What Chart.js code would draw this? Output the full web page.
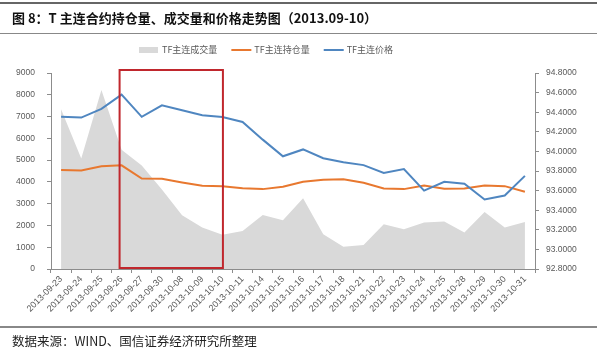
<!DOCTYPE html>
<html>
<head>
<meta charset="utf-8">
<script src="https://cdn.jsdelivr.net/npm/chart.js@4.4.0/dist/chart.umd.min.js"></script>
<style>
body{margin:0;width:600px;height:351px;position:relative;background:#fff;font-family:"Noto Sans CJK SC",sans-serif;overflow:hidden}
#title{position:absolute;left:12px;top:9px;font-size:13px;font-weight:bold;color:#111;white-space:nowrap;line-height:18px}
#source{position:absolute;left:12px;top:334px;font-size:12.5px;color:#222;white-space:nowrap;line-height:14px}
.rule{position:absolute;left:0;width:597px;height:0}
canvas{position:absolute;left:0;top:0}
</style>
</head>
<body>
<canvas id="chart" width="600" height="351"></canvas>
<div class="rule" style="top:2px;border-top:2px solid #666"></div>
<div class="rule" style="top:33px;border-top:1px solid #888"></div>
<div id="title">图 8：T 主连合约持仓量、成交量和价格走势图（2013.09-10）</div>
<div class="rule" style="top:326px;border-top:2px solid #888"></div>
<div id="source">数据来源：WIND、国信证券经济研究所整理</div>
<script>
// 数据
const dates = ['2013-09-23','2013-09-24','2013-09-25','2013-09-26','2013-09-27','2013-09-30',
  '2013-10-08','2013-10-09','2013-10-10','2013-10-11','2013-10-14','2013-10-15','2013-10-16',
  '2013-10-17','2013-10-18','2013-10-21','2013-10-22','2013-10-23','2013-10-24','2013-10-25',
  '2013-10-28','2013-10-29','2013-10-30','2013-10-31'];
const volume = [7340, 5070, 8220, 5480, 4750, 3650, 2470, 1900, 1570, 1750, 2480, 2240,
  3250, 1600, 1020, 1100, 2060, 1830, 2130, 2180, 1680, 2620, 1900, 2160];
const openInterest = [4550, 4520, 4720, 4760, 4155, 4140, 3970, 3820, 3805, 3712, 3668, 3775,
  4003, 4095, 4125, 3957, 3700, 3668, 3836, 3683, 3700, 3836, 3805, 3546];
const price = [94.353, 94.345, 94.434, 94.58, 94.353, 94.47, 94.42, 94.37, 94.35, 94.30, 94.12, 93.95,
  94.02, 93.93, 93.89, 93.86, 93.78, 93.82, 93.60, 93.69, 93.67, 93.51, 93.55, 93.75];
const leftTicks = [0, 9000, 1000];
const rightTicks = [92.8, 94.8, 0.2];
// 红框标出的区间（下标）
const boxFrom = 3, boxTo = 8;

const tickColor = '#595959';
const axisColor = '#8c8c8c';

// 自己画图例
const legendPlugin = {
  id: 'myLegend',
  afterDraw(chart) {
    const ctx = chart.ctx;
    ctx.save();
    ctx.font = '9px "Noto Sans CJK SC"';
    ctx.textBaseline = 'middle';
    let x = 139;
    const y = 50;
    chart.data.datasets.forEach(ds => {
      if (ds.fill) {
        ctx.fillStyle = ds.backgroundColor;
        ctx.fillRect(x, y - 3, 19, 6);
      } else {
        ctx.strokeStyle = ds.borderColor;
        ctx.lineWidth = 2;
        ctx.beginPath();
        ctx.moveTo(x, y);
        ctx.lineTo(x + 20, y);
        ctx.stroke();
      }
      x += 23;
      ctx.fillStyle = tickColor;
      ctx.fillText(ds.label, x, y);
      x += ctx.measureText(ds.label).width + 14;
    });
    ctx.restore();
  }
};

// 红框
const boxPlugin = {
  id: 'redBox',
  afterDatasetsDraw(chart) {
    const ctx = chart.ctx;
    const xs = chart.scales.x;
    const a = chart.chartArea;
    const x1 = xs.getPixelForValue(boxFrom) - 2;
    const x2 = xs.getPixelForValue(boxTo) + 0.5;
    ctx.save();
    ctx.strokeStyle = '#c0272d';
    ctx.lineWidth = 2;
    ctx.strokeRect(x1, a.top - 3, x2 - x1, a.bottom - a.top + 2);
    ctx.restore();
  }
};

const ctx = document.getElementById('chart').getContext('2d');
new Chart(ctx, {
  type: 'line',
  data: {
    labels: dates,
    datasets: [
      { label: 'TF主连成交量', data: volume, yAxisID: 'y', fill: 'origin',
        backgroundColor: '#d9d9d9', borderWidth: 0, pointRadius: 0, order: 3 },
      { label: 'TF主连持仓量', data: openInterest, yAxisID: 'y', fill: false,
        borderColor: '#e8782f', borderWidth: 2, pointRadius: 0, order: 2 },
      { label: 'TF主连价格', data: price, yAxisID: 'y1', fill: false,
        borderColor: '#4f86c0', borderWidth: 2, pointRadius: 0, order: 1 }
    ]
  },
  options: {
    responsive: false,
    animation: false,
    layout: { padding: { top: 73, left: 0, right: 0, bottom: 0 } },
    plugins: { legend: { display: false }, tooltip: { enabled: false } },
    elements: { line: { tension: 0 } },
    scales: {
      x: {
        offset: true,
        grid: { offset: true, drawOnChartArea: false, drawTicks: true, tickLength: 4, color: axisColor },
        border: { color: axisColor },
        ticks: { color: tickColor, font: { size: 9, family: 'Liberation Sans' }, minRotation: 45, maxRotation: 45, padding: 1, autoSkip: false },
        afterFit(s) { s.height = 351 - 269; }
      },
      y: {
        position: 'left',
        min: leftTicks[0], max: leftTicks[1],
        grid: { drawOnChartArea: false, tickLength: 4, color: axisColor },
        border: { color: axisColor },
        ticks: { stepSize: leftTicks[2], color: tickColor, font: { size: 8.5, family: 'Liberation Sans' }, padding: 12,
          callback: v => String(v) },
        afterFit(s) { s.width = 51; }
      },
      y1: {
        position: 'right',
        min: rightTicks[0], max: rightTicks[1],
        grid: { drawOnChartArea: false, tickLength: 4, color: axisColor },
        border: { color: axisColor },
        ticks: { stepSize: rightTicks[2], color: tickColor, font: { size: 8.5, family: 'Liberation Sans' }, padding: 7,
          callback: v => Number(v).toFixed(4) },
        afterFit(s) { s.width = 600 - 535; }
      }
    }
  },
  plugins: [legendPlugin, boxPlugin]
});
</script>
</body>
</html>
